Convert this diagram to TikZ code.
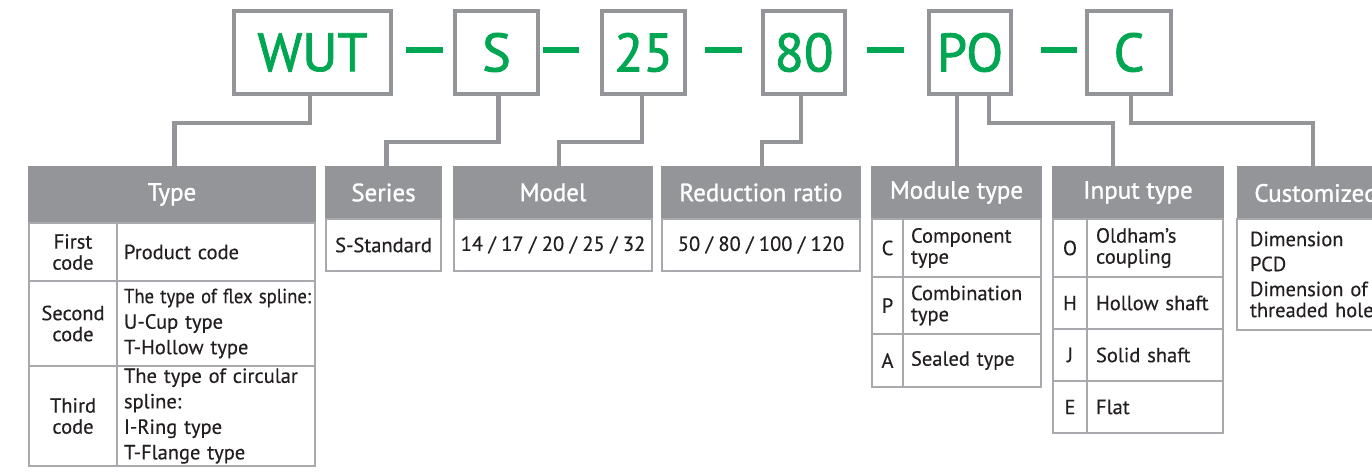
\documentclass[tikz,border=0pt]{standalone}
\usepackage{fontspec}
\setmainfont{PT Sans}
\newfontfamily\codefont{PT Sans}[FakeBold=1.6]
\newfontfamily\headfont{PT Sans}[FakeBold=1.2]
\newfontfamily\bodyfont{PT Sans}[FakeBold=0.4]
\usetikzlibrary{calc}
\definecolor{codegreen}{HTML}{00A651}
\definecolor{framegray}{HTML}{939598}
\definecolor{gridgray}{HTML}{A7A9AC}
\definecolor{ink}{HTML}{231F20}
\newcommand\squeezeto[2]{\resizebox{#1}{\height}{#2}}
\begin{document}
\begin{tikzpicture}[x=1pt,y=-1pt,
  codebox/.style={draw=framegray, line width=4pt, minimum width=#1, minimum height=83pt,
    inner sep=0pt, outer sep=0pt, text=codegreen, font=\codefont\fontsize{54}{54}\selectfont},
  hyphen/.style={draw=codegreen, line width=6pt},
  link/.style={draw=framegray, line width=4.5pt},
  head/.style={fill=framegray, text=white, inner sep=0pt, outer sep=0pt, anchor=north west,
    minimum height=53pt, font=\headfont\fontsize{25}{25}\selectfont},
  cell/.style={draw=gridgray, line width=1.5pt, inner sep=0pt, outer sep=0pt, anchor=north west,
    text=ink, font=\bodyfont\fontsize{20.5}{21}\selectfont},
  ccell/.style={cell, align=center},
  lcell/.style={cell, align=left, inner xsep=8pt},
  tall/.style={font=\bodyfont\fontsize{20.5}{25.5}\selectfont},
]
\useasboundingbox (0,0) rectangle (1372,476);
\clip (0,0) rectangle (1372,476);

% code boxes
\node[codebox=157pt] (wut) at (312.5,52.5) {WUT};
\node[codebox=83pt]  (s)   at (496.5,52.5) {S};
\node[codebox=83pt]  (n25) at (643.5,52.5) {25};
\node[codebox=82pt]  (n80) at (804,52.5)   {80};
\node[codebox=82pt]  (po)  at (970,52.5)   {PO};
\node[codebox=84pt]  (c)   at (1129,52.5)  {C};

% hyphens between the code boxes
\draw[hyphen, shorten <=15pt, shorten >=12pt] ([yshift=2pt]wut.east) -- ([yshift=2pt]s.west);
\draw[hyphen, shorten <=5pt,  shorten >=23pt] ([yshift=2pt]s.east)   -- ([yshift=2pt]n25.west);
\draw[hyphen, shorten <=20pt, shorten >=21pt] ([yshift=2pt]n25.east) -- ([yshift=2pt]n80.west);
\draw[hyphen, shorten <=22pt, shorten >=25pt] ([yshift=2pt]n80.east) -- ([yshift=2pt]po.west);
\draw[hyphen, shorten <=30pt, shorten >=10pt] ([yshift=2pt]po.east)  -- ([yshift=2pt]c.west);

% headers
\node[head, minimum width=288pt, minimum height=57pt] (hType) at (28,166) {Type};
\node[head, minimum width=117pt] (hSeries) at (325,166) {Series};
\node[head, minimum width=200pt] (hModel)  at (453,166) {Model};
\node[head, minimum width=200pt] (hRatio)  at (661,166) {Reduction ratio};
\node[head, minimum width=171pt] (hModule) at (871,166) {Module type};
\node[head, minimum width=172pt] (hInput)  at (1052,166) {Input type};
\node[head, minimum width=158pt, minimum height=54pt] (hCustom) at (1237,166) {Customized};

% connectors
\draw[link] ([xshift=-2.5pt]wut.south) -- ++(0,29) -| ([xshift=2.7pt]hType.north);
\draw[link] ([xshift=2pt]s.south) -- ++(0,48) -| ([xshift=3pt]hSeries.north);
\draw[link] ([xshift=-1.5pt]n25.south) -- ++(0,48) -| ([xshift=6pt]hModel.north);
\draw[link] ([xshift=-3pt]n80.south) -- ++(0,48) -| ([xshift=1pt]hRatio.north);
\coordinate (poL) at ([xshift=-13pt]po.south);
\draw[link] (poL) -- (poL |- hModule.north);
\draw[link] ([xshift=19pt]po.south) -- ++(0,29) -| ([xshift=-25pt]hInput.north);
\draw[link] ([xshift=2pt]c.south) -- ++(0,29) -| ([xshift=-3pt]hCustom.north);

% Type table
\node[ccell, minimum width=88pt, minimum height=58pt] (t1a) at (29,223) {First\\code};
\node[lcell, tall, text width=184pt, minimum height=58pt, inner xsep=7pt] (t1b) at (117,223) {Product code};
\node[ccell, minimum width=88pt, minimum height=85pt] (t2a) at (29,281) {Second\\code};
\node[lcell, tall, text width=184pt, minimum height=85pt, inner xsep=7pt] (t2b) at (117,281) {\squeezeto{187pt}{The type of flex spline:}\\U-Cup type\\T-Hollow type};
\node[ccell, minimum width=88pt, minimum height=100pt] (t3a) at (29,366) {Third\\code};
\node[lcell, tall, text width=184pt, minimum height=100pt, inner xsep=7pt] (t3b) at (117,366) {The type of circular\\spline:\\I-Ring type\\T-Flange type};

% single-cell bodies
\node[ccell, minimum width=115pt, minimum height=52pt] (bSeries) at (326,219) {S-Standard};
\node[ccell, minimum width=198pt, minimum height=52pt] (bModel) at (454,219) {14 / 17 / 20 / 25 / 32};
\node[ccell, minimum width=198pt, minimum height=52pt] (bRatio) at (662,219) {50 / 80 / 100 / 120};

% Module type table
\node[ccell, minimum width=31pt, minimum height=58pt] (m1a) at (872,219) {C};
\node[lcell, text width=122pt, minimum height=58pt] (m1b) at (903,219) {Component\\type};
\node[ccell, minimum width=31pt, minimum height=57pt] (m2a) at (872,277) {P};
\node[lcell, text width=122pt, minimum height=57pt] (m2b) at (903,277) {Combination\\type};
\node[ccell, minimum width=31pt, minimum height=53pt] (m3a) at (872,334) {A};
\node[lcell, text width=122pt, minimum height=53pt] (m3b) at (903,334) {Sealed type};

% Input type table
\node[ccell, minimum width=34pt, minimum height=58pt] (i1a) at (1053,219) {O};
\node[lcell, text width=118pt, minimum height=58pt, inner xsep=9pt] (i1b) at (1087,219) {Oldham’s\\coupling};
\node[ccell, minimum width=34pt, minimum height=52pt] (i2a) at (1053,277) {H};
\node[lcell, text width=118pt, minimum height=52pt, inner xsep=9pt] (i2b) at (1087,277) {Hollow shaft};
\node[ccell, minimum width=34pt, minimum height=52pt] (i3a) at (1053,329) {J};
\node[lcell, text width=118pt, minimum height=52pt, inner xsep=9pt] (i3b) at (1087,329) {Solid shaft};
\node[ccell, minimum width=34pt, minimum height=52pt] (i4a) at (1053,381) {E};
\node[lcell, text width=118pt, minimum height=52pt, inner xsep=9pt] (i4b) at (1087,381) {Flat};

% Customized body
\node[lcell, text width=150pt, minimum height=111pt, inner xsep=13pt] (bCustom) at (1237,219) {Dimension\\[4pt]PCD\\[4pt]Dimension of\\threaded hole};
\end{tikzpicture}
\end{document}
